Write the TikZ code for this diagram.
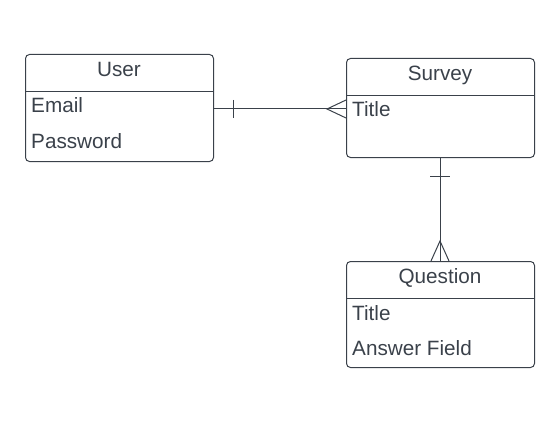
\documentclass[tikz,border=0pt]{standalone}
\usepackage{fontspec}
\setmainfont{Liberation Sans}
\definecolor{ink}{HTML}{3A414A}
\begin{document}
\begin{tikzpicture}[x=1pt,y=-1pt,
  box/.style={draw=ink,line width=1pt,rounded corners=4pt,inner sep=0pt,anchor=north west},
  lbl/.style={text=ink,font=\fontsize{20.7}{24}\selectfont,inner sep=0pt},
  sep/.style={draw=ink,line width=1pt},
  conn/.style={draw=ink,line width=1pt}]
\useasboundingbox (0,0) rectangle (559,425);
% boxes
\node[box,minimum width=188pt,minimum height=107pt] (user) at (25,54) {};
\node[box,minimum width=188pt,minimum height=99pt] (survey) at (346,58) {};
\node[box,minimum width=188pt,minimum height=106pt] (question) at (346,261) {};
% header separators
\coordinate (uh1) at (25,92); \coordinate (uh2) at (213,92);
\draw[sep] (uh1) -- (uh2);
\coordinate (sh1) at (346,96); \coordinate (sh2) at (534,96);
\draw[sep] (sh1) -- (sh2);
\coordinate (qh1) at (346,298); \coordinate (qh2) at (534,298);
\draw[sep] (qh1) -- (qh2);
% texts
\node[lbl,anchor=base] (ut) at (119,77) {User};
\node[lbl,anchor=base west] (ue) at (31,113) {Email};
\node[lbl,anchor=base west] (up) at (31,148) {Password};
\node[lbl,anchor=base] (st) at (440,81) {Survey};
\node[lbl,anchor=base west] (sa) at (352,117) {Title};
\node[lbl,anchor=base] (qt) at (440,283) {Question};
\node[lbl,anchor=base west] (qa) at (352,320) {Title};
\node[lbl,anchor=base west] (qb) at (352,355) {Answer Field};
% connector user - survey
\coordinate (a1) at (213,109); \coordinate (a2) at (346,109);
\draw[conn] (a1) -- (a2);
\coordinate (t1) at (233,100); \coordinate (t2) at (233,118);
\draw[conn] (t1) -- (t2);
\coordinate (c0) at (327,109); \coordinate (c1) at (346,100); \coordinate (c2) at (346,118);
\draw[conn] (c1) -- (c0) -- (c2);
% connector survey - question
\coordinate (b1) at (440,157); \coordinate (b2) at (440,261);
\draw[conn] (b1) -- (b2);
\coordinate (v1) at (430,176); \coordinate (v2) at (450,176);
\draw[conn] (v1) -- (v2);
\coordinate (d0) at (440,241); \coordinate (d1) at (431,261); \coordinate (d2) at (449,261);
\draw[conn] (d1) -- (d0) -- (d2);
\end{tikzpicture}
\end{document}
